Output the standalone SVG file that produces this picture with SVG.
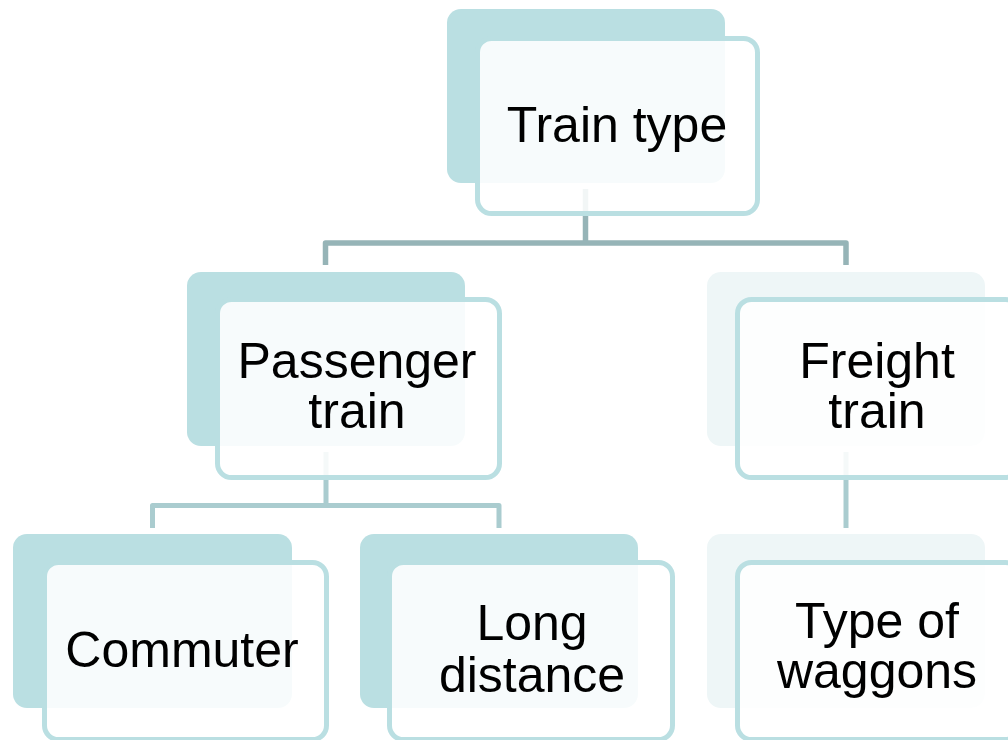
<svg xmlns="http://www.w3.org/2000/svg" width="1008" height="740" viewBox="0 0 1008 740">
<style>
.back{fill:#BADFE2}
.backl{fill:#EEF6F7}
.front{fill:#FFFFFF;fill-opacity:0.88;stroke:#BADFE2;stroke-width:5}
.t{font-family:"Liberation Sans",Arial,sans-serif;font-size:50px;fill:#000;text-anchor:middle}
.c1{fill:none;stroke:#96B4B7;stroke-width:5.5;stroke-linejoin:round}
.c2{fill:none;stroke:#AACCCF;stroke-width:5;stroke-linejoin:round}
</style>
<rect width="1008" height="740" fill="#FFFFFF"/>
<g id="connectors">
<path class="c1" d="M585.5 189 V243 M325.5 265 V243 H846 V265"/>
<path class="c2" d="M326 452 V505.5 M152.5 528 V505.5 H499 V528"/>
<path class="c2" d="M846 452 V528"/>
</g>
<g id="train-type">
<rect class="back" x="447" y="9" width="278" height="174" rx="14"/>
<rect class="front" x="477.5" y="38.5" width="280" height="175" rx="14"/>
<text class="t" x="617" y="142">Train type</text>
</g>
<g id="passenger-train">
<rect class="back" x="187" y="272" width="278" height="174" rx="14"/>
<rect class="front" x="217.5" y="299.5" width="282" height="178" rx="14"/>
<text class="t" x="357" y="378">Passenger</text>
<text class="t" x="357" y="428">train</text>
</g>
<g id="freight-train">
<rect class="backl" x="707" y="272" width="278" height="174" rx="14"/>
<rect class="front" x="737.5" y="299.5" width="282" height="178" rx="14"/>
<text class="t" x="877" y="378">Freight</text>
<text class="t" x="877" y="428">train</text>
</g>
<g id="commuter">
<rect class="back" x="13" y="534" width="279" height="174" rx="14"/>
<rect class="front" x="44.5" y="562.5" width="282" height="177" rx="14"/>
<text class="t" x="182" y="667">Commuter</text>
</g>
<g id="long-distance">
<rect class="back" x="360" y="534" width="278" height="174" rx="14"/>
<rect class="front" x="389.5" y="562.5" width="283" height="177" rx="14"/>
<text class="t" x="532" y="640">Long</text>
<text class="t" x="532" y="692">distance</text>
</g>
<g id="type-of-waggons">
<rect class="backl" x="707" y="534" width="278" height="174" rx="14"/>
<rect class="front" x="737.5" y="562.5" width="282" height="177" rx="14"/>
<text class="t" x="877" y="638">Type of</text>
<text class="t" x="877" y="688">waggons</text>
</g>
</svg>
